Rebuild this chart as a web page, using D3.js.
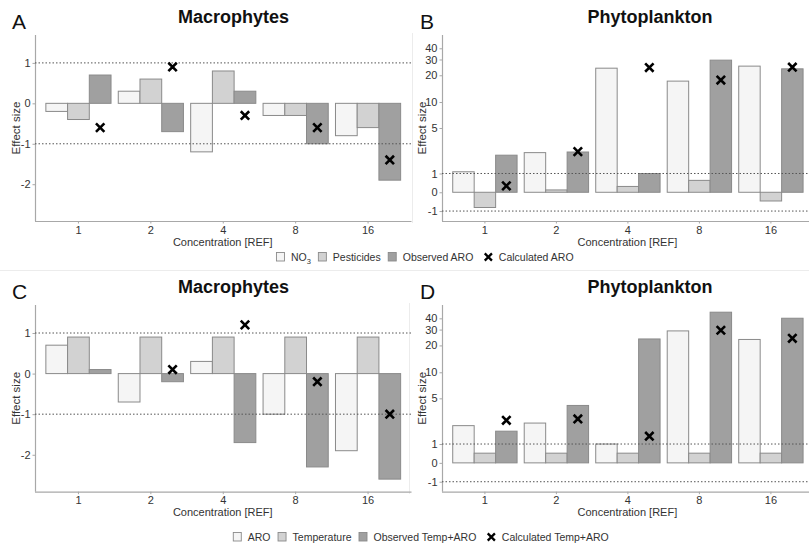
<!DOCTYPE html>
<html>
<head>
<meta charset="utf-8">
<script src="https://cdn.jsdelivr.net/npm/d3@7"></script>
<style>
  html, body { margin: 0; padding: 0; background: #fff; }
  svg { display: block; font-family: "Liberation Sans", Arial, sans-serif; }
</style>
</head>
<body>
<script>
// Concentration levels (multiples of the reference concentration)
const categories = ["1", "2", "4", "8", "16"];

// A: macrophytes, single stressors vs. combined agricultural run-off
const macroNO3       = [-0.2, 0.3, -1.2, -0.3, -0.8];
const macroPest      = [-0.4, 0.6, 0.8, -0.3, -0.6];
const macroObsARO    = [0.7, -0.7, 0.3, -1.0, -1.9];
const macroCalcARO   = [-0.6, 0.9, -0.3, -0.6, -1.4];

// B: phytoplankton, single stressors vs. combined agricultural run-off
const phytoNO3       = [1.1, 2.4, 24.0, 17.2, 25.3];
const phytoPest      = [-0.8, 0.12, 0.3, 0.62, -0.45];
const phytoObsARO    = [2.2, 2.45, 1.0, 29.5, 23.6];
const phytoCalcARO   = [0.33, 2.48, 24.4, 17.7, 24.6];

// C: macrophytes, run-off and warming
const macroARO          = [0.7, -0.7, 0.3, -1.0, -1.9];
const macroTemp         = [0.9, 0.9, 0.9, 0.9, 0.9];
const macroObsTempARO   = [0.1, -0.2, -1.7, -2.3, -2.6];
const macroCalcTempARO  = [null, 0.1, 1.2, -0.2, -1.0];

// D: phytoplankton, run-off and warming
const phytoARO          = [2.2, 2.4, 1.0, 29.0, 23.3];
const phytoTemp         = [0.5, 0.5, 0.5, 0.5, 0.5];
const phytoObsTempARO   = [1.8, 4.1, 23.6, 46.8, 40.1];
const phytoCalcTempARO  = [2.63, 2.74, 1.47, 29.5, 24.0];

// Axis ticks
const macroTicks = [-2, -1, 0, 1];
const phytoTicks = [-1, 0, 1, 5, 10, 20, 30, 40];
const refLines   = [-1, 1];

// Legend labels
const legendTop    = ["NO3", "Pesticides", "Observed ARO", "Calculated ARO"];
const legendBottom = ["ARO", "Temperature", "Observed Temp+ARO", "Calculated Temp+ARO"];

const W = 809, H = 549;
const FILLS = ["#f5f5f5", "#d2d2d2", "#a0a0a0"];
const BAR_STROKE = "#8a8a8a";
const AXIS_COL = "#a8a8a8";
const TEXT_COL = "#333";

const svg = d3.select("body").append("svg")
  .attr("width", W).attr("height", H);
svg.append("rect").attr("width", W).attr("height", H).attr("fill", "#fff");

// faint frame lines separating the four sub-figures
const frame = svg.append("g").attr("stroke", "#ececec").attr("stroke-width", 1);
frame.append("line").attr("x1", 0).attr("x2", W).attr("y1", 270.5).attr("y2", 270.5);
frame.append("line").attr("x1", 412.5).attr("x2", 412.5).attr("y1", 33).attr("y2", 223);
frame.append("line").attr("x1", 409.5).attr("x2", 409.5).attr("y1", 303).attr("y2", 494);

// pseudo-log transform (asinh(x/2)) on top of a linear d3 scale
function pseudoLogScale(domainT, range) {
  const lin = d3.scaleLinear().domain(domainT).range(range);
  const f = v => lin(Math.asinh(v / 2));
  f.range = () => lin.range();
  f.domain = () => domainT.map(t => 2 * Math.sinh(t));
  f.copy = () => pseudoLogScale(domainT, range);
  return f;
}

const panels = [
  { letter: "A", title: "Macrophytes", x0: 35, x1: 411.5, top: 35, bottom: 221,
    log: false, ticks: macroTicks,
    series: [macroNO3, macroPest, macroObsARO], calc: macroCalcARO,
    letterX: 12, titleX: 233.5, ylabX: 20 },
  { letter: "B", title: "Phytoplankton", x0: 442, x1: 813.8, top: 35, bottom: 221,
    log: true, ticks: phytoTicks,
    series: [phytoNO3, phytoPest, phytoObsARO], calc: phytoCalcARO,
    letterX: 420, titleX: 650, ylabX: 426 },
  { letter: "C", title: "Macrophytes", x0: 35, x1: 411.5, top: 305, bottom: 491.7,
    log: false, ticks: macroTicks,
    series: [macroARO, macroTemp, macroObsTempARO], calc: macroCalcTempARO,
    letterX: 12, titleX: 233.5, ylabX: 20 },
  { letter: "D", title: "Phytoplankton", x0: 442, x1: 813.8, top: 305, bottom: 491.7,
    log: true, ticks: phytoTicks,
    series: [phytoARO, phytoTemp, phytoObsTempARO], calc: phytoCalcTempARO,
    letterX: 420, titleX: 650, ylabX: 426 }
];

function crossPath(cx, cy, r) {
  return `M${cx - r},${cy - r}L${cx + r},${cy + r}M${cx - r},${cy + r}L${cx + r},${cy - r}`;
}

panels.forEach(p => {
  const g = svg.append("g");

  const x = d3.scaleBand().domain(categories).range([p.x0, p.x1])
    .paddingInner(0).paddingOuter(0.1);
  const xi = d3.scaleBand().domain([0, 1, 2])
    .range([x.bandwidth() * 0.05, x.bandwidth() * 0.95]).padding(0);
  const y = p.log
    ? pseudoLogScale([-0.736, 4.03], [p.bottom, p.top])
    : d3.scaleLinear().domain([-2.91, 1.69]).range([p.bottom, p.top]);

  // axes
  const yAxis = g.append("g").attr("transform", `translate(${p.x0},0)`)
    .call(d3.axisLeft(y).tickValues(p.ticks).tickFormat(d => String(d))
      .tickSize(2.5).tickPadding(2));
  const xAxis = g.append("g").attr("transform", `translate(0,${p.bottom})`)
    .call(d3.axisBottom(x).tickSize(2.5).tickPadding(2.5));
  [xAxis, yAxis].forEach(a => {
    a.select(".domain").attr("stroke", AXIS_COL).attr("stroke-width", 1.2);
    a.selectAll(".tick line").attr("stroke", AXIS_COL);
    a.selectAll(".tick text").attr("fill", TEXT_COL)
      .style("font-size", "11px").style("font-family", "'Liberation Sans', Arial, sans-serif");
  });
  xAxis.select(".domain").attr("d", `M${p.x0},0.5H${p.x1}`);
  yAxis.select(".domain").attr("d", `M0.5,${p.top}V${p.bottom}`);

  // bars
  const zero = y(0);
  p.series.forEach((vals, si) => {
    g.append("g").selectAll("rect").data(vals.map((v, i) => ({ v, c: categories[i] })))
      .join("rect")
      .attr("x", d => x(d.c) + xi(si))
      .attr("width", xi.bandwidth())
      .attr("y", d => Math.min(y(d.v), zero))
      .attr("height", d => Math.abs(y(d.v) - zero))
      .attr("fill", FILLS[si])
      .attr("stroke", BAR_STROKE)
      .attr("stroke-width", 1);
  });

  // reference lines at effect size +/-1
  g.append("g").selectAll("line").data(refLines).join("line")
    .attr("x1", p.x0).attr("x2", Math.min(p.x1, W))
    .attr("y1", d => y(d)).attr("y2", d => y(d))
    .attr("stroke", "#555").attr("stroke-width", 1)
    .attr("stroke-dasharray", "1.5,2");

  // calculated (additive) expectation
  g.append("g").selectAll("path")
    .data(p.calc.map((v, i) => ({ v, c: categories[i] })).filter(d => d.v != null))
    .join("path")
    .attr("d", d => crossPath(x(d.c) + xi(2) + xi.bandwidth() / 2, y(d.v), 4.2))
    .attr("stroke", "#000").attr("stroke-width", 2.6).attr("fill", "none");

  // labels
  g.append("text").attr("x", p.letterX).attr("y", p.top - 6)
    .attr("font-size", 21).attr("fill", "#111").text(p.letter);
  g.append("text").attr("x", p.titleX).attr("y", p.top - 12)
    .attr("text-anchor", "middle").attr("font-size", 18).attr("font-weight", "bold")
    .attr("fill", "#111").text(p.title);
  g.append("text")
    .attr("transform", `translate(${p.ylabX},${(p.top + p.bottom) / 2}) rotate(-90)`)
    .attr("text-anchor", "middle").attr("font-size", 11.5).attr("fill", TEXT_COL)
    .text("Effect size");
  g.append("text").attr("x", (p.x0 + Math.min(p.x1, 819)) / 2 - 0.5).attr("y", p.bottom + 24.5)
    .attr("text-anchor", "middle").attr("font-size", 11).attr("fill", TEXT_COL)
    .text("Concentration [REF]");
});

// legends
function drawLegend(labels, cx, cy) {
  const g = svg.append("g");
  let xpos = 0;
  labels.forEach((lab, i) => {
    if (i < 3) {
      g.append("rect").attr("x", xpos).attr("y", cy - 4.5).attr("width", 8).attr("height", 8.5)
        .attr("fill", FILLS[i]).attr("stroke", "#8a8a8a").attr("stroke-width", 0.9);
      xpos += 8 + 6.5;
    } else {
      xpos += 3.5;
      g.append("path").attr("d", crossPath(xpos + 4, cy, 3.6))
        .attr("stroke", "#000").attr("stroke-width", 2.3).attr("fill", "none");
      xpos += 8 + 6.5;
    }
    const t = g.append("text").attr("x", xpos).attr("y", cy + 4)
      .attr("font-size", 10.5).attr("fill", TEXT_COL);
    if (lab === "NO3") {
      t.append("tspan").text("NO");
      t.append("tspan").attr("dy", 2.5).attr("font-size", 7.5).text("3");
    } else {
      t.text(lab);
    }
    xpos += t.node().getComputedTextLength() + 7.5;
  });
  const total = xpos - 7.5;
  g.attr("transform", `translate(${cx - total / 2},0)`);
}
drawLegend(legendTop, 425, 257);
drawLegend(legendBottom, 421, 537);
</script>
</body>
</html>
